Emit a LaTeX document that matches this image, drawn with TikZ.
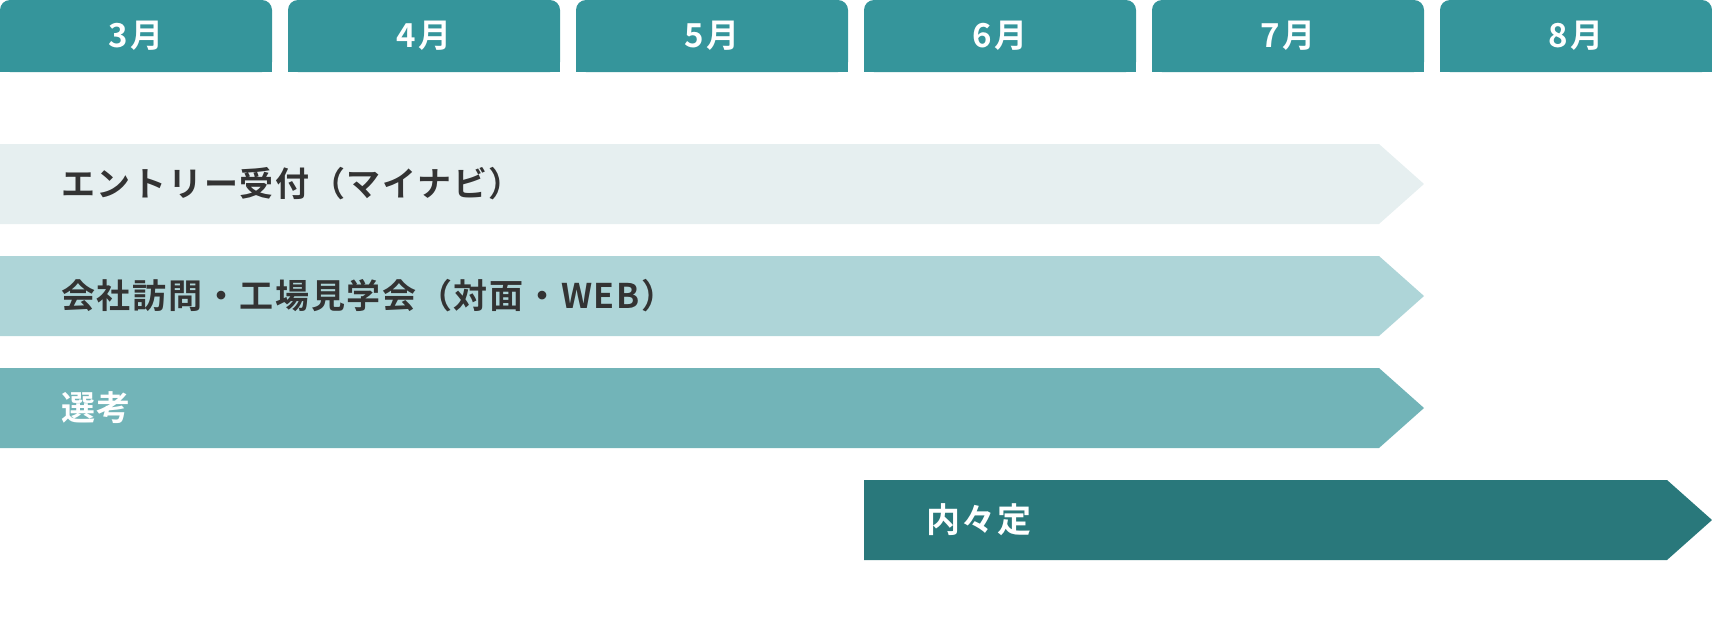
\documentclass[tikz,border=0pt]{standalone}
\usepackage{fontspec}
\setmainfont{Noto Sans CJK JP}[BoldFont={Noto Sans CJK JP Bold}]
\newfontfamily\barfont{Noto Sans CJK JP Bold}[LetterSpace=5]
\definecolor{tabc}{HTML}{35959B}
\definecolor{barA}{HTML}{E6EFF0}
\definecolor{barB}{HTML}{AED5D8}
\definecolor{barC}{HTML}{72B4B8}
\definecolor{barD}{HTML}{29787B}
\definecolor{txt}{HTML}{333333}
\begin{document}
\begin{tikzpicture}[x=1pt,y=1pt,
  tab/.style={fill=tabc, rounded corners=10pt, minimum width=272pt, minimum height=72pt, inner sep=0pt, text=white, font=\barfont\fontsize{33}{33}\selectfont},
  barlabel/.style={anchor=west, inner sep=0pt, text=txt, font=\barfont\fontsize{34}{34}\selectfont},
  whitelabel/.style={barlabel, text=white}]
\useasboundingbox (0,0) rectangle (1712,-622);
% month tabs
\foreach \m [count=\i from 0] in {3,4,5,6,7,8} {
  \fill[tabc] (288*\i,-36) rectangle (288*\i+272,-72);
  \node[tab] (m\m) at (288*\i+136,-36) {\m 月};
}
% bars
\fill[barA] (0,-144) -- (1379,-144) -- (1424,-184) -- (1379,-224) -- (0,-224) -- cycle;
\node[barlabel] (b1) at (61,-184) {エントリー受付（マイナビ）};
\fill[barB] (0,-256) -- (1379,-256) -- (1424,-296) -- (1379,-336) -- (0,-336) -- cycle;
\node[barlabel] (b2) at (61,-296) {会社訪問・工場見学会（対面・WEB）};
\fill[barC] (0,-368) -- (1379,-368) -- (1424,-408) -- (1379,-448) -- (0,-448) -- cycle;
\node[whitelabel] (b3) at (61,-408) {選考};
\fill[barD] (864,-480) -- (1667,-480) -- (1712,-520) -- (1667,-560) -- (864,-560) -- cycle;
\node[whitelabel] (b4) at (926,-520) {内々定};
\end{tikzpicture}
\end{document}
